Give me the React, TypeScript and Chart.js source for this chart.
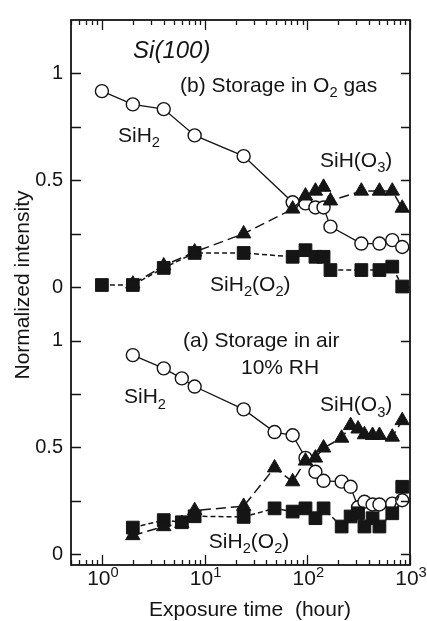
import { useEffect, useRef } from "react";
import { Chart, registerables } from "chart.js";

Chart.register(...registerables);

// Exposure times (hours) and normalized intensities.
// (b) storage in O2 gas
const HOURS_O2 = [1, 2, 4, 8, 24, 72, 96, 120, 144, 168, 336, 504, 672, 840];
const O2_SIH2 = [0.917, 0.855, 0.833, 0.71, 0.613, 0.397, 0.392, 0.373, 0.373, 0.283, 0.204, 0.204, 0.22, 0.188];
const O2_SIH2O2 = [0.01, 0.01, 0.09, 0.16, 0.16, 0.142, 0.173, 0.142, 0.142, 0.08, 0.08, 0.08, 0.096, 0.003];
const HOURS_O2_SIHO3 = [2, 4, 8, 24, 72, 96, 120, 144, 168, 336, 504, 672, 840];
const O2_SIHO3 = [0.015, 0.1, 0.165, 0.25, 0.366, 0.427, 0.45, 0.468, 0.404, 0.45, 0.45, 0.45, 0.37];

// (a) storage in air, 10% RH
const HOURS_AIR = [2, 4, 6, 8, 24, 48, 72, 96, 120, 144, 216, 264, 312, 360, 432, 504, 672, 840];
const AIR_SIH2 = [0.932, 0.87, 0.823, 0.785, 0.678, 0.572, 0.557, 0.451, 0.386, 0.344, 0.34, 0.316, 0.22, 0.246, 0.233, 0.233, 0.237, 0.253];
const AIR_SIHO3 = [0.088, 0.13, 0.145, 0.205, 0.225, 0.405, 0.34, 0.437, 0.451, 0.498, 0.544, 0.603, 0.587, 0.56, 0.557, 0.557, 0.549, 0.626];
const AIR_SIH2O2 = [0.125, 0.16, 0.15, 0.178, 0.175, 0.215, 0.2, 0.215, 0.169, 0.215, 0.13, 0.177, 0.192, 0.13, 0.169, 0.13, 0.192, 0.316];

// Axis ticks
const X_DECADES = [1, 10, 100, 1000];
const X_DECADE_EXP = ["0", "1", "2", "3"];
const Y_TICK_VALUES = [0, 0.5, 1];
const Y_TICK_TEXT = ["0", "0.5", "1"];
const Y_MINOR_VALUES = [0.25, 0.75];

// The O2 panel is stacked above the air panel on one shared y scale.
const PANEL_SHIFT = 1.25;

const FONT = '"Liberation Sans", Arial, Helvetica, sans-serif';
const INK = "#151515";

type Ann = { text: string; x: number; y: number; size: number; italic?: boolean };

// Text labels anchored in data units (left edge, baseline).
const ANNOTATIONS: Ann[] = [
  { text: "Si(100)", x: 2.01, y: 2.324, size: 24, italic: true },
  { text: "(b) Storage in O_2 gas", x: 5.76, y: 2.162, size: 21 },
  { text: "SiH_2", x: 1.435, y: 1.93, size: 21 },
  { text: "SiH(O_3)", x: 133, y: 1.814, size: 21 },
  { text: "SiH_2(O_2)", x: 11.3, y: 1.234, size: 21 },
  { text: "(a) Storage in air", x: 6.16, y: 0.97, size: 21 },
  { text: "10% RH", x: 22.6, y: 0.845, size: 21 },
  { text: "SiH_2", x: 1.64, y: 0.706, size: 21 },
  { text: "SiH(O_3)", x: 133, y: 0.669, size: 21 },
  { text: "SiH_2(O_2)", x: 11.0, y: 0.029, size: 21 },
];

const pts = (xs: number[], ys: number[], shift = 0) => xs.map((x, i) => ({ x, y: ys[i] + shift }));

// Draw text where "_c" is a subscript and "^c" a superscript character.
function drawRich(ctx: CanvasRenderingContext2D, text: string, x: number, y: number, size: number, italic = false, measureOnly = false) {
  let cx = x;
  let i = 0;
  while (i < text.length) {
    let ch = text[i];
    let mode = 0;
    if ((ch === "_" || ch === "^") && i + 1 < text.length) {
      mode = ch === "_" ? 1 : 2;
      ch = text[i + 1];
      i += 2;
    } else {
      let j = i;
      let run = "";
      while (j < text.length && text[j] !== "_" && text[j] !== "^") {
        run += text[j];
        j++;
      }
      ch = run;
      i = j;
    }
    const s = mode ? size * 0.7 : size;
    ctx.font = `${italic ? "italic " : ""}${s}px ${FONT}`;
    const dy = mode === 1 ? size * 0.25 : mode === 2 ? -size * 0.37 : 0;
    if (!measureOnly) ctx.fillText(ch, cx, y + dy);
    cx += ctx.measureText(ch).width;
  }
  return cx - x;
}

const framePlugin = {
  id: "frameAndText",
  afterDraw(chart: any) {
    const { ctx, chartArea: a, scales } = chart;
    const xs = scales.x;
    const ys = scales.y;
    ctx.save();
    ctx.strokeStyle = INK;
    ctx.fillStyle = INK;

    // frame
    ctx.lineWidth = 1.8;
    ctx.strokeRect(a.left, a.top, a.right - a.left, a.bottom - a.top);

    // inward y ticks for both panels
    ctx.lineWidth = 1.3;
    const yMarks: number[] = [];
    [0, PANEL_SHIFT].forEach((s) => {
      [...Y_TICK_VALUES, ...Y_MINOR_VALUES].forEach((v) => yMarks.push(v + s));
    });
    yMarks.forEach((v) => {
      const py = Math.round(ys.getPixelForValue(v)) + 0.5;
      ctx.beginPath();
      ctx.moveTo(a.left, py);
      ctx.lineTo(a.left + 10, py);
      ctx.moveTo(a.right, py);
      ctx.lineTo(a.right - 9, py);
      ctx.stroke();
    });

    // inward x ticks, decades and minor
    const xMarks: number[] = [];
    for (let e = -1; e <= 2; e++) {
      for (let k = 1; k <= 9; k++) xMarks.push(k * Math.pow(10, e));
    }
    xMarks.push(1000);
    xMarks.forEach((v) => {
      if (v < xs.min || v > xs.max) return;
      const px = Math.round(xs.getPixelForValue(v)) + 0.5;
      const major = Math.abs(Math.log10(v) - Math.round(Math.log10(v))) < 1e-9;
      const len = major ? 10 : 5;
      ctx.beginPath();
      ctx.moveTo(px, a.bottom);
      ctx.lineTo(px, a.bottom - len);
      ctx.moveTo(px, a.top);
      ctx.lineTo(px, a.top + len);
      ctx.stroke();
    });

    // x tick labels 10^n
    ctx.textBaseline = "alphabetic";
    ctx.textAlign = "left";
    X_DECADES.forEach((d, i) => {
      const label = "10^" + X_DECADE_EXP[i];
      const w = drawRich(ctx, label, 0, 0, 21, false, true);
      const px = xs.getPixelForValue(d);
      drawRich(ctx, label, px - w / 2 + 1, a.bottom + 20, 21);
    });

    // axis titles
    ctx.font = `21px ${FONT}`;
    ctx.textAlign = "center";
    ctx.fillText("Exposure time  (hour)", 250, 616);
    ctx.save();
    ctx.translate(29, 285);
    ctx.rotate(-Math.PI / 2);
    ctx.fillText("Normalized intensity", 0, 0);
    ctx.restore();

    // annotations
    ctx.textAlign = "left";
    ANNOTATIONS.forEach((n) => {
      drawRich(ctx, n.text, xs.getPixelForValue(n.x), ys.getPixelForValue(n.y), n.size, !!n.italic);
    });
    ctx.restore();
  },
};

const circleSet = (data: { x: number; y: number }[]) => ({
  data,
  borderColor: INK,
  borderWidth: 1.3,
  pointStyle: "circle",
  pointRadius: 6.5,
  pointBorderWidth: 1.4,
  pointBackgroundColor: "#ffffff",
  pointBorderColor: INK,
});
const triangleSet = (data: { x: number; y: number }[]) => ({
  data,
  borderColor: INK,
  borderWidth: 1.5,
  borderDash: [10, 5],
  pointStyle: "triangle",
  pointRadius: 8.3,
  pointBorderWidth: 1,
  pointBackgroundColor: INK,
  pointBorderColor: INK,
});
const squareSet = (data: { x: number; y: number }[]) => ({
  data,
  borderColor: INK,
  borderWidth: 1.5,
  borderDash: [5, 3],
  pointStyle: "rect",
  pointRadius: 9,
  pointBorderWidth: 1,
  pointBackgroundColor: INK,
  pointBorderColor: INK,
});

export default function App() {
  const ref = useRef<HTMLCanvasElement | null>(null);

  useEffect(() => {
    if (!ref.current) return;
    const chart = new Chart(ref.current, {
      type: "line",
      data: {
        datasets: [
          // first datasets are painted last (on top)
          triangleSet(pts(HOURS_O2_SIHO3, O2_SIHO3, PANEL_SHIFT)),
          triangleSet(pts(HOURS_AIR, AIR_SIHO3)),
          squareSet(pts(HOURS_O2, O2_SIH2O2, PANEL_SHIFT)),
          squareSet(pts(HOURS_AIR, AIR_SIH2O2)),
          circleSet(pts(HOURS_O2, O2_SIH2, PANEL_SHIFT)),
          circleSet(pts(HOURS_AIR, AIR_SIH2)),
        ] as any,
      },
      options: {
        responsive: false,
        devicePixelRatio: 1,
        animation: false,
        events: [],
        layout: { padding: { top: 15, right: 17, left: 0, bottom: 0 }, autoPadding: false },
        plugins: { legend: { display: false }, tooltip: { enabled: false } },
        elements: { line: { tension: 0 } },
        scales: {
          x: {
            type: "logarithmic",
            min: 0.5,
            max: 1000,
            ticks: { display: false },
            grid: { display: false, drawTicks: false },
            border: { display: false },
            afterFit: (s: any) => {
              s.height = 56;
            },
          },
          y: {
            type: "linear",
            min: -0.05,
            max: 2.5,
            afterBuildTicks: (s: any) => {
              const t: { value: number }[] = [];
              [0, PANEL_SHIFT].forEach((sh) => Y_TICK_VALUES.forEach((v) => t.push({ value: v + sh })));
              s.ticks = t;
            },
            ticks: {
              callback: (_v: any, i: number) => Y_TICK_TEXT[i % Y_TICK_TEXT.length],
              font: { family: FONT, size: 20 },
              color: INK,
              padding: 8,
            },
            grid: { display: false, drawTicks: false },
            border: { display: false },
            afterFit: (s: any) => {
              s.width = 71;
            },
          },
        },
      } as any,
      plugins: [framePlugin],
    });
    return () => chart.destroy();
  }, []);

  return (
    <div style={{ position: "absolute", left: 0, top: 0, width: 427, height: 621, background: "#fff" }}>
      <canvas ref={ref} width={427} height={621} style={{ display: "block" }} />
    </div>
  );
}
